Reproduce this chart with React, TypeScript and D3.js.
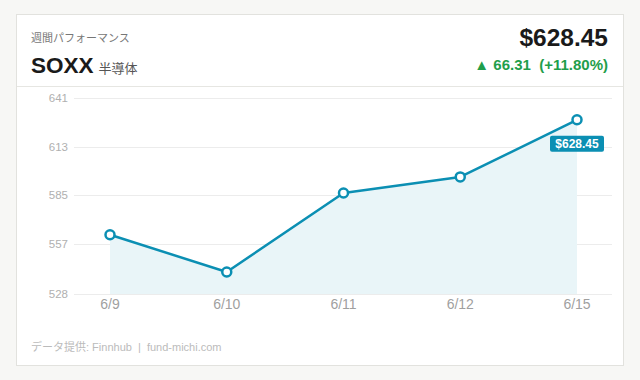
import React from "react";
import * as d3 from "d3";
import { useRef, useEffect } from "react";

const dates = ["6/9", "6/10", "6/11", "6/12", "6/15"];
const closes = [562.14, 540.7, 586.2, 595.5, 628.45];
const yTicks = [528, 557, 585, 613, 641];

const ticker = "SOXX";
const sector = "半導体";
const caption = "週間パフォーマンス";
const lastPrice = "$628.45";
const change = "▲ 66.31  (+11.80%)";
const source = "データ提供: Finnhub  |  fund-michi.com";

const FONT = "'Liberation Sans', Arial, 'Noto Sans CJK JP', sans-serif";
const LINE = "#0b8fb3";

export default function App() {
  const ref = useRef<SVGSVGElement>(null);

  useEffect(() => {
    const width = 640;
    const height = 380;
    const svg = d3.select(ref.current);
    svg.selectAll("*").remove();

    svg.append("rect").attr("width", width).attr("height", height).attr("fill", "#f7f7f5");

    // card
    svg
      .append("rect")
      .attr("x", 16.5)
      .attr("y", 14.5)
      .attr("width", 607)
      .attr("height", 351)
      .attr("fill", "#fff")
      .attr("stroke", "#e2e2de");

    svg
      .append("line")
      .attr("x1", 17)
      .attr("x2", 623)
      .attr("y1", 86.5)
      .attr("y2", 86.5)
      .attr("stroke", "#e6e6e2");

    // header
    svg
      .append("text")
      .attr("x", 31)
      .attr("y", 42)
      .attr("font-family", FONT)
      .attr("font-size", 11)
      .attr("fill", "#777")
      .text(caption);

    const title = svg
      .append("text")
      .attr("x", 31)
      .attr("y", 73)
      .attr("font-family", FONT);
    title.append("tspan").attr("font-size", 22.5).attr("font-weight", "bold").attr("fill", "#1a1a1a").text(ticker);
    title.append("tspan").attr("dx", 5).attr("font-size", 13).attr("fill", "#555").text(sector);

    svg
      .append("text")
      .attr("x", 608)
      .attr("y", 46)
      .attr("text-anchor", "end")
      .attr("font-family", FONT)
      .attr("font-size", 24.5)
      .attr("font-weight", "bold")
      .attr("fill", "#1a1a1a")
      .text(lastPrice);

    svg
      .append("text")
      .attr("x", 608)
      .attr("y", 70)
      .attr("text-anchor", "end")
      .attr("font-family", FONT)
      .attr("font-size", 15)
      .attr("font-weight", "bold")
      .attr("fill", "#1f9e4b")
      .style("white-space", "pre")
      .text(change);

    // chart
    const x = d3.scalePoint().domain(dates).range([110, 577]);
    const y = d3.scaleLinear().domain([528, 641]).range([294, 98]);

    const g = svg.append("g");

    g.selectAll(".grid")
      .data(yTicks)
      .enter()
      .append("line")
      .attr("x1", 74)
      .attr("x2", 612)
      .attr("y1", (d) => Math.round(y(d)) + 0.5)
      .attr("y2", (d) => Math.round(y(d)) + 0.5)
      .attr("stroke", "#ececec");

    g.selectAll(".ylab")
      .data(yTicks)
      .enter()
      .append("text")
      .attr("x", 68)
      .attr("y", (d) => y(d) + 4)
      .attr("text-anchor", "end")
      .attr("font-family", FONT)
      .attr("font-size", 11.5)
      .attr("fill", "#b0b0b0")
      .text((d) => d);

    g.selectAll(".xlab")
      .data(dates)
      .enter()
      .append("text")
      .attr("x", (d) => x(d)!)
      .attr("y", 309)
      .attr("text-anchor", "middle")
      .attr("font-family", FONT)
      .attr("font-size", 14)
      .attr("fill", "#9f9f9f")
      .text((d) => d);

    const pts = dates.map((d, i) => [x(d)!, y(closes[i])] as [number, number]);

    g.append("path")
      .datum(pts)
      .attr(
        "d",
        d3
          .area<[number, number]>()
          .x((d) => d[0])
          .y0(y(528))
          .y1((d) => d[1])
      )
      .attr("fill", "#e9f5f8");

    g.append("path")
      .datum(pts)
      .attr("d", d3.line())
      .attr("fill", "none")
      .attr("stroke", LINE)
      .attr("stroke-width", 2.5)
      .attr("stroke-linejoin", "round");

    g.selectAll(".pt")
      .data(pts)
      .enter()
      .append("circle")
      .attr("cx", (d) => d[0])
      .attr("cy", (d) => d[1])
      .attr("r", 4.5)
      .attr("fill", "#fff")
      .attr("stroke", LINE)
      .attr("stroke-width", 2.5);

    // last value badge
    const last = pts[pts.length - 1];
    const badge = g.append("g").attr("transform", `translate(${last[0]},${last[1] + 24})`);
    badge
      .append("rect")
      .attr("x", -27)
      .attr("y", -8)
      .attr("width", 54)
      .attr("height", 16)
      .attr("rx", 2)
      .attr("fill", LINE);
    badge
      .append("text")
      .attr("y", 4.5)
      .attr("text-anchor", "middle")
      .attr("font-family", FONT)
      .attr("font-size", 12)
      .attr("font-weight", "bold")
      .attr("fill", "#fff")
      .text(lastPrice);

    svg
      .append("text")
      .attr("x", 31)
      .attr("y", 351)
      .attr("font-family", FONT)
      .attr("font-size", 11)
      .attr("fill", "#bbb")
      .style("white-space", "pre")
      .text(source);
  }, []);

  return (
    <div style={{ position: "fixed", left: 0, top: 0 }}>
      <svg ref={ref} width={640} height={380} style={{ display: "block" }} />
    </div>
  );
}
